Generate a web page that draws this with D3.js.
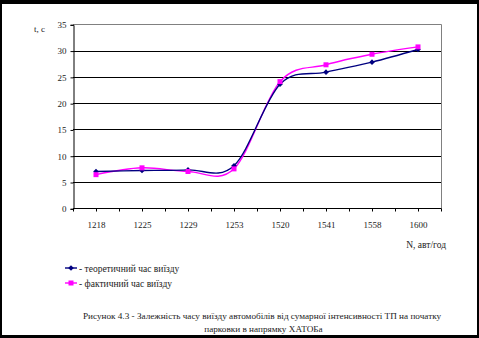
<!DOCTYPE html>
<html><head><meta charset="utf-8">
<script src="https://cdn.jsdelivr.net/npm/d3@7"></script>
<style>
html,body{margin:0;padding:0;background:#000;}
svg{display:block;}
svg text{font-family:'Liberation Serif','DejaVu Serif','Times New Roman',serif !important;fill:#222;}
</style></head>
<body>
<svg id="chart" width="479" height="338"></svg>
<script>
const categories = ["1218","1225","1229","1253","1520","1541","1558","1600"];
const theoretical = [7.0, 7.2, 7.3, 8.1, 23.6, 25.9, 27.8, 30.2];
const actual = [6.4, 7.7, 7.0, 7.5, 24.1, 27.3, 29.3, 30.7];
const yTicks = [0,5,10,15,20,25,30,35];
const seriesNames = ["- теоретичний час виїзду","- фактичний час виїзду"];
const yTitle = "t, с";
const xTitle = "N, авт/год";
const caption = ["Рисунок 4.3 - Залежність часу виїзду автомобілів від сумарної  інтенсивності ТП на початку","парковки в напрямку ХАТОБа"];

const svg = d3.select("#chart");
svg.append("rect").attr("x",2).attr("y",4).attr("width",475).attr("height",331).attr("fill","#fff");

const L=73, R=441, T=24.3, B=208.3;
const x = d3.scalePoint().domain(categories).range([L,R]).padding(0.5);
const y = d3.scaleLinear().domain([0,35]).range([B,T]);
const step = x.step();

svg.append("g").selectAll("line").data(yTicks.filter(d=>d>0 && d<35)).join("line")
  .attr("x1",L).attr("x2",R).attr("y1",d=>Math.round(y(d))+0.5).attr("y2",d=>Math.round(y(d))+0.5)
  .attr("stroke","#000").attr("stroke-width",1);
svg.append("path").attr("d",`M${L},${Math.round(T)+0.5}H${R+0.5}V${B}`).attr("fill","none").attr("stroke","#808080").attr("stroke-width",1);

const yAxis = d3.axisLeft(y).tickValues(yTicks).tickSize(3).tickPadding(4);
const gy = svg.append("g").attr("transform",`translate(${L+0.5},0.5)`).call(yAxis).attr("font-family",null);
gy.select(".domain").attr("stroke","#000");
gy.selectAll(".tick line").attr("stroke","#000");
gy.selectAll("text").attr("font-size",9).attr("fill","#222");

const xAxis = d3.axisBottom(x).tickSize(0).tickPadding(13);
const gx = svg.append("g").attr("transform",`translate(0,${Math.round(B)+0.5})`).call(xAxis).attr("font-family",null);
gx.select(".domain").attr("stroke","#000").attr("d",`M${L},0H${R+0.5}`);
gx.selectAll("text").attr("font-size",9).attr("fill","#222");
const tickPos = [];
categories.forEach(c=>{tickPos.push(x(c)-step/2); tickPos.push(x(c));});
tickPos.push(x(categories[categories.length-1])+step/2);
gx.append("g").selectAll("line").data(tickPos).join("line")
  .attr("x1",d=>Math.round(d)+0.5).attr("x2",d=>Math.round(d)+0.5).attr("y1",0).attr("y2",3).attr("stroke","#000");

const curve = d3.curveCatmullRom.alpha(0);
const line = d3.line().x((d,i)=>x(categories[i])).y(d=>y(d)).curve(curve);
const series = [
  {vals: theoretical, color:"#000080", marker:"diamond"},
  {vals: actual, color:"#FF00FF", marker:"square"}
];
series.slice().reverse().forEach(s=>{
  svg.append("path").datum(s.vals).attr("d",line).attr("fill","none").attr("stroke",s.color).attr("stroke-width",1.4);
});
function drawMarker(g, cx, cy, s){
  if(s.marker==="diamond"){
    g.append("path").attr("d",`M${cx},${cy-2.8}L${cx+2.8},${cy}L${cx},${cy+2.8}L${cx-2.8},${cy}Z`).attr("fill",s.color);
  } else {
    g.append("rect").attr("x",cx-2.5).attr("y",cy-2.5).attr("width",5).attr("height",5).attr("fill",s.color);
  }
}
series.forEach(s=>{
  const g = svg.append("g");
  s.vals.forEach((v,i)=>drawMarker(g, x(categories[i]), y(v), s));
});

svg.append("text").attr("x",45).attr("y",32).attr("text-anchor","end").attr("font-size",9).text(yTitle);
svg.append("text").attr("x",446).attr("y",248).attr("text-anchor","end").attr("font-size",9.5).text(xTitle);

const legY = [268, 283];
series.forEach((s,i)=>{
  svg.append("line").attr("x1",65).attr("x2",77).attr("y1",legY[i]).attr("y2",legY[i]).attr("stroke",s.color).attr("stroke-width",1.4);
  drawMarker(svg, 71, legY[i], s);
  svg.append("text").attr("x",79).attr("y",legY[i]+3.5).attr("font-size",9.5).text(seriesNames[i]);
});

svg.append("text").attr("x",262).attr("y",318.5).attr("text-anchor","middle").attr("font-size",9.2).text(caption[0]);
svg.append("text").attr("x",263.5).attr("y",331.5).attr("text-anchor","middle").attr("font-size",9.2).text(caption[1]);
</script>
</body></html>
